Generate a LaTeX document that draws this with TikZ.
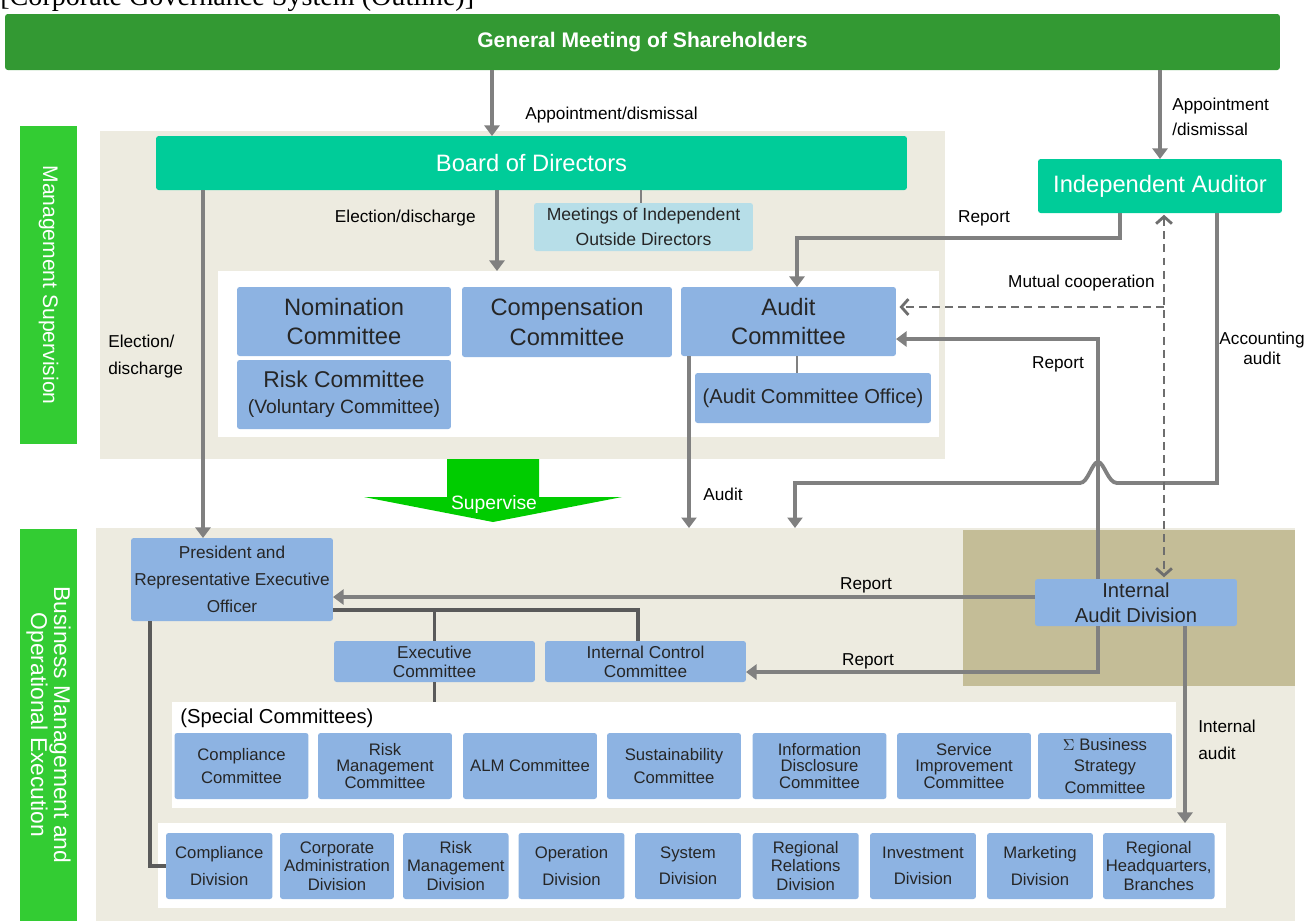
\documentclass[tikz,border=0pt]{standalone}
\usepackage{fontspec}
\setmainfont{Liberation Sans}
\newfontfamily\titlefont{Liberation Serif}
\usetikzlibrary{arrows.meta,positioning}

\definecolor{gmsgreen}{HTML}{339933}
\definecolor{sidegreen}{HTML}{33CC33}
\definecolor{boardgreen}{HTML}{00CC99}
\definecolor{supgreen}{HTML}{00CC00}
\definecolor{boxblue}{HTML}{8DB3E2}
\definecolor{meetblue}{HTML}{B7DEE8}
\definecolor{beige}{HTML}{EDEBE0}
\definecolor{tan}{HTML}{C4BD97}
\definecolor{linegray}{HTML}{808080}
\definecolor{dashgray}{HTML}{6E6E6E}
\definecolor{orggray}{HTML}{5A5A5A}

\newcommand{\fsz}[2]{\fontsize{#1}{#2}\selectfont}

\tikzset{
  panel/.style={inner sep=0pt, outer sep=0pt},
  blk/.style={fill=boxblue, rounded corners=1.5pt, align=center, inner sep=0pt, outer sep=0pt, text=black!85},
  grn/.style={fill=boardgreen, text=white, rounded corners=1.5pt, inner sep=0pt, outer sep=0pt, font=\fsz{13.5}{16}},
  side/.style={fill=sidegreen, text=white, rotate=-90, align=center, inner sep=0pt, outer sep=0pt},
  lbl/.style={inner sep=0pt, align=left, font=\fsz{9.8}{12}},
  arr/.style={draw=linegray, line width=2.2pt, -{Triangle[length=6pt,width=8.5pt]}},
  link/.style={draw=linegray, line width=1.6pt},
  org/.style={draw=orggray, line width=2pt},
  coop/.style={draw=dashgray, line width=1.6pt, dash pattern=on 4.5pt off 3pt},
  sc/.style={blk, minimum width=2.68cm, minimum height=1.32cm, font=\fsz{9.5}{13}},
  dv/.style={blk, minimum width=2.12cm, minimum height=1.32cm, font=\fsz{9.5}{15}},
}

\begin{document}
\begin{tikzpicture}[x=0.02cm, y=-0.02cm]
  \useasboundingbox (0,0) rectangle (1309,921);

  \node[anchor=base west, inner sep=0pt, font=\titlefont\fsz{16}{18}] (title) at (0,5) {[Corporate Governance System (Outline)]};

  % background panels
  \node[panel, fill=beige, minimum width=16.9cm, minimum height=6.56cm] (uppanel) at (522.5,295) {};
  \node[panel, fill=white, minimum width=14.42cm, minimum height=3.32cm] (cpanel) at (578.5,354) {};
  \node[panel, fill=beige, minimum width=23.98cm, minimum height=7.86cm] (lowpanel) at (695.5,724.5) {};
  \node[panel, fill=tan, minimum width=6.64cm, minimum height=3.12cm] (tanpanel) at (1129,608) {};
  \node[panel, fill=white, minimum width=20.08cm, minimum height=2.12cm] (spanel) at (674,755) {};
  \node[panel, fill=white, minimum width=21.36cm, minimum height=1.7cm] (dpanel) at (692,865.5) {};

  \node[side, minimum width=6.36cm, minimum height=1.14cm, font=\fsz{12}{14}] (supbar) at (48.5,285) {Management Supervision};
  \node[side, minimum width=7.84cm, minimum height=1.14cm, font=\fsz{13}{13}] (execbar) at (48.5,725) {Business Management and\\Operational Execution};

  \node[fill=gmsgreen, text=white, rounded corners=1.5pt, inner sep=0pt, outer sep=0pt, minimum width=25.5cm, minimum height=1.12cm, font=\bfseries\fsz{12}{14}] (gms) at (642.5,42) {General Meeting of Shareholders};
  \node[grn, minimum width=15.02cm, minimum height=1.08cm] (board) at (531.5,163) {Board of Directors};
  \node[grn, minimum width=4.88cm, minimum height=1.08cm] (auditor) at (1160,186) {Independent Auditor};
  \node[blk, fill=meetblue, minimum width=4.38cm, minimum height=0.96cm, font=\fsz{10}{14}] (meet) at (643.5,227) {Meetings of Independent\\Outside Directors};

  \node[blk, minimum width=4.28cm, minimum height=1.38cm, font=\fsz{13.5}{17}] (nom) at (344,321.5) {Nomination\\Committee};
  \node[blk, minimum width=4.28cm, minimum height=1.38cm, font=\fsz{13}{15}] (risk) at (344,394.5) {Risk Committee\\{\fsz{11}{15}(Voluntary Committee)}};
  \node[blk, minimum width=4.2cm, minimum height=1.4cm, font=\fsz{13.5}{17}] (comp) at (567,322) {Compensation\\Committee};
  \node[blk, minimum width=4.3cm, minimum height=1.38cm, font=\fsz{13.5}{17}] (audit) at (788.5,321.5) {Audit\\Committee};
  \node[blk, minimum width=4.72cm, minimum height=1cm, font=\fsz{11.5}{14}] (office) at (813,398) {(Audit Committee Office)};

  \fill[supgreen] (447,459) -- (539,459) -- (539,497) -- (622,497) -- (493,522) -- (364,497) -- (447,497) -- cycle;
  \node[text=white, inner sep=0pt, font=\fsz{11}{13}] (supv) at (494,504) {Supervise};

  \node[blk, minimum width=4.04cm, minimum height=1.66cm, font=\fsz{9.8}{15.3}] (pres) at (232,579.5) {President and\\Representative Executive\\Officer};
  \node[blk, minimum width=4.02cm, minimum height=0.82cm, font=\fsz{9.8}{10.8}] (execc) at (434.5,661.5) {Executive\\Committee};
  \node[blk, minimum width=4.02cm, minimum height=0.82cm, font=\fsz{9.8}{10.8}] (icc) at (645.5,661.5) {Internal Control\\Committee};
  \node[blk, minimum width=4.04cm, minimum height=0.94cm, font=\fsz{11.5}{14}] (iad) at (1136,602.5) {Internal\\Audit Division};

  \node[anchor=west, inner sep=0pt, font=\fsz{11.5}{13}] (sclbl) at (180,718) {(Special Committees)};
  \node[sc] (s1) at (241.5,766) {Compliance\\Committee};
  \node[sc, font=\fsz{9.5}{9.5}] (s2) at (385,766) {Risk\\Management\\Committee};
  \node[sc] (s3) at (530,766) {ALM Committee};
  \node[sc] (s4) at (674,766) {Sustainability\\Committee};
  \node[sc, font=\fsz{9.5}{9.5}] (s5) at (819.5,766) {Information\\Disclosure\\Committee};
  \node[sc, font=\fsz{9.5}{9.5}] (s6) at (964,766) {Service\\Improvement\\Committee};
  \node[sc, font=\fsz{9.5}{12}] (s7) at (1105,766) {$\Sigma$ Business\\Strategy\\Committee};

  \node[dv, minimum width=2.13cm] (d1) at (219.25,866) {Compliance\\Division};
  \node[dv, minimum width=2.28cm, font=\fsz{9.5}{10.5}] (d2) at (337,866) {Corporate\\Administration\\Division};
  \node[dv, minimum width=2.11cm, font=\fsz{9.5}{10.5}] (d3) at (455.8,866) {Risk\\Management\\Division};
  \node[dv] (d4) at (571.5,866) {Operation\\Division};
  \node[dv] (d5) at (688,866) {System\\Division};
  \node[dv, font=\fsz{9.5}{10.8}] (d6) at (805.7,866) {Regional\\Relations\\Division};
  \node[dv] (d7) at (923,866) {Investment\\Division};
  \node[dv] (d8) at (1040,866) {Marketing\\Division};
  \node[dv, minimum width=2.23cm, font=\fsz{9.5}{10.5}] (d9) at (1158.75,866) {Regional\\Headquarters,\\Branches};

  % connectors
  \draw[arr] (492,0 |- gms.south) -- (492,0 |- board.north);
  \draw[arr] (1160,0 |- gms.south) -- (auditor.north);
  \draw[arr] (497,0 |- board.south) -- (497,0 |- cpanel.north);
  \draw[link] (641,0 |- board.south) -- (641,0 |- meet.north);
  \draw[link] (797,0 |- audit.south) -- (797,0 |- office.north);
  \draw[arr] (1120,0 |- auditor.south) -- (1120,238) -| (797,0 |- audit.north);
  \draw[arr] (203,0 |- board.south) -- (203,0 |- pres.north);
  \draw[arr] (689,0 |- audit.south) -- (689,0 |- lowpanel.north);
  \draw[arr] (1217,0 |- auditor.south) -- (1217,483) -- (1117,483)
    .. controls (1108,483) and (1104,462) .. (1098,462)
    .. controls (1092,462) and (1088,483) .. (1080,483) -- (795,483) -- (795,0 |- lowpanel.north);
  \draw[arr] (1098,0 |- iad.north) |- (audit.east |- 0,339);
  \coordinate (mc) at (1164,307);
  \draw[coop, -{Straight Barb[length=4pt,width=9pt]}, shorten >=2pt] (mc) -- (audit.east |- mc);
  \draw[coop, {Straight Barb[length=4pt,width=9pt]}-{Straight Barb[length=4pt,width=9pt]}, shorten <=1pt, shorten >=1pt] (mc |- auditor.south) -- (mc |- iad.north);
  \draw[arr] (iad.west |- 0,597) -- (pres.east |- 0,597);
  \draw[org] (pres.east |- 0,610) -| (638,0 |- icc.north);
  \draw[org] (execc.north |- 0,610) -- (execc.north);
  \draw[org] (execc.south) -- (execc.south |- spanel.north);
  \draw[arr] (1098,0 |- iad.south) |- (icc.east |- 0,672);
  \draw[org] (150,0 |- pres.south) |- (d1.west);
  \draw[arr] (1185,0 |- iad.south) -- (1185,0 |- dpanel.north);

  % labels
  \node[lbl, anchor=west] (l1) at (525,115) {Appointment/dismissal};
  \node[lbl, anchor=west, font=\fsz{9.8}{14}] (l2) at (1172,117) {Appointment\\/dismissal};
  \node[lbl, anchor=east] (l3) at (476,218) {Election/discharge};
  \node[lbl] (l4) at (984,218) {Report};
  \node[lbl, anchor=east] (l5) at (1155,283) {Mutual cooperation};
  \node[lbl, align=center, font=\fsz{9.8}{11.3}] (l6) at (1262,348) {Accounting\\audit};
  \node[lbl] (l7) at (1058,364) {Report};
  \node[lbl, anchor=west, font=\fsz{9.8}{15.3}] (l8) at (108,356.5) {Election/\\discharge};
  \node[lbl] (l9) at (723,494) {Audit};
  \node[lbl] (l10) at (866,585) {Report};
  \node[lbl] (l11) at (868,661) {Report};
  \node[lbl, anchor=west, font=\fsz{9.8}{15.3}] (l12) at (1198,739.5) {Internal\\audit};
\end{tikzpicture}
\end{document}
